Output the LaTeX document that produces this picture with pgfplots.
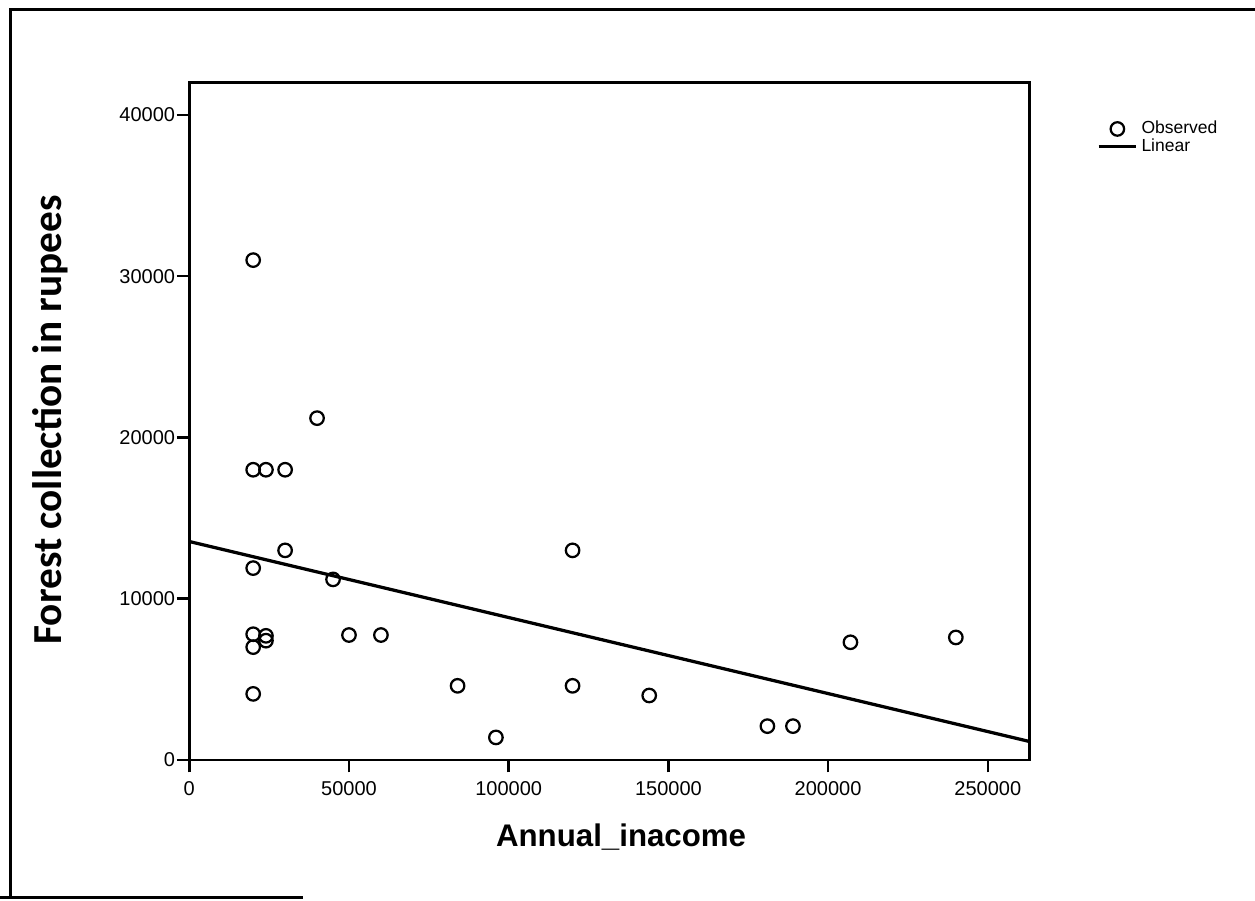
\documentclass[border=0pt]{standalone}
\usepackage{fontspec}
\setmainfont{Liberation Sans}
\newfontfamily\ylabfont{Carlito}
\usepackage{pgfplots}
\pgfplotsset{compat=1.18}

\begin{document}
\begin{tikzpicture}
  % page size fixed to the scan's proportions (1 px = 0.4pt)
  \useasboundingbox (-75.72pt,-56.4pt) rectangle (426.28pt,304pt);
  % scanned frame
  \draw[line width=1.2pt] (-71.7pt,-55.1pt) -- (-71.7pt,300pt) -- (430pt,300pt);
  \draw[line width=1.2pt] (-80pt,-55.1pt) -- (45.5pt,-55.1pt);

  \begin{axis}[
      at={(0,0)}, anchor=south west,
      scale only axis,
      width=336pt, height=270.9pt,
      xmin=0, xmax=263000,
      ymin=0, ymax=42000,
      xtick={0,50000,100000,150000,200000,250000},
      ytick={0,10000,20000,30000,40000},
      scaled ticks=false,
      /pgf/number format/.cd, fixed, 1000 sep={}, assume math mode=true, /pgfplots/.cd,
      tick align=outside, tick pos=left,
      major tick length=5pt,
      every tick/.style={black, line width=1pt},
      axis line style={line width=1.1pt},
      tick label style={font=\fontsize{8}{9}\selectfont},
      yticklabel style={inner xsep=0.5pt},
      xlabel={Annual\_inacome},
      xlabel style={font=\bfseries\fontsize{12.5}{14}\selectfont,
        at={(axis description cs:0.514,0)}, anchor=north, yshift=-22pt},
      ylabel={\ylabfont Forest collection in rupees},
      ylabel style={font=\bfseries\fontsize{16.5}{18}\selectfont,
        at={(axis description cs:0,0.502)}, anchor=south, yshift=45pt},
      legend style={draw=none, fill=none, at={(axis description cs:1.080,0.952)},
        anchor=north west, font=\fontsize{7}{8}\selectfont,
        row sep=-3.5pt, inner sep=0pt,
        nodes={inner xsep=1.5pt}},
      legend image code/.code={
        \draw[mark repeat=2, mark phase=2, #1]
          plot coordinates {(0pt,0pt) (7.5pt,0pt) (15pt,0pt)};},
      legend cell align=left,
      clip=false,
    ]
    \addplot[only marks, mark=o, mark size=2.7pt, mark options={line width=0.9pt}]
      coordinates {
        (20000,31000) (40000,21200)
        (20000,18000) (24000,18000) (30000,18000)
        (30000,13000) (20000,11900) (45000,11200)
        (20000,7800) (24000,7700) (20000,7000) (24000,7400)
        (50000,7750) (60000,7750) (20000,4100)
        (84000,4600) (96000,1400) (120000,4600) (120000,13000)
        (144000,4000) (181000,2100) (189000,2100)
        (207000,7300) (240000,7600)
      };
    \addlegendentry{Observed}
    \addplot[black, line width=1.3pt] coordinates {(0,13550) (263000,1150)};
    \addlegendentry{Linear}
  \end{axis}
\end{tikzpicture}
\end{document}
